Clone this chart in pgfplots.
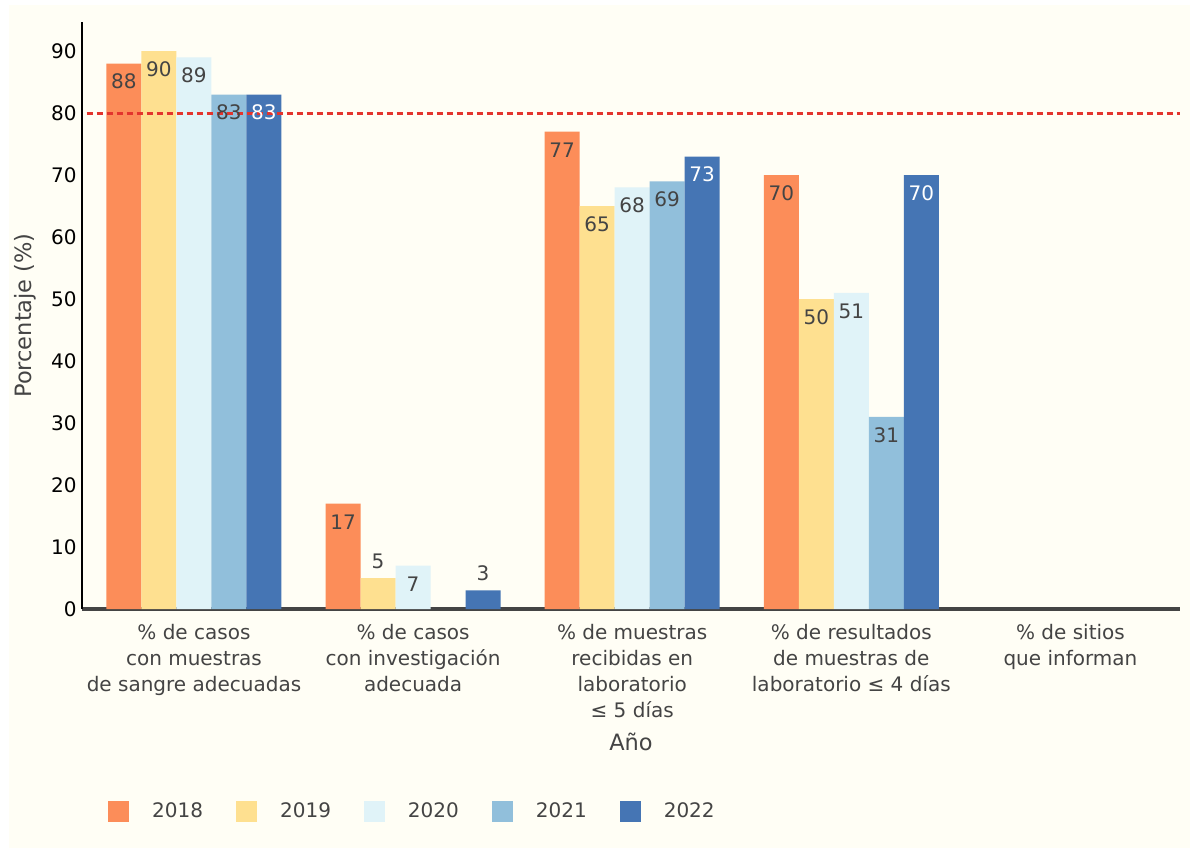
\documentclass[border=0pt]{standalone}
\usepackage{pgfplots}
\pgfplotsset{compat=1.18}
\usepackage{fontspec}
\setmainfont{DejaVu Sans}
\definecolor{bgc}{HTML}{FFFEF5}
\definecolor{txt}{HTML}{444444}
\definecolor{c2018}{HTML}{FC8D59}
\definecolor{c2019}{HTML}{FEE090}
\definecolor{c2020}{HTML}{E0F3F8}
\definecolor{c2021}{HTML}{91BFDB}
\definecolor{c2022}{HTML}{4575B4}
\definecolor{refred}{HTML}{E3342D}
\begin{document}
\begin{tikzpicture}
% page: 1190 x 848 px, axis origin at pixel (82,609)
\fill[white] (-82bp,-239bp) rectangle (1108bp,609bp);
\fill[bgc] (-73bp,-239bp) rectangle (1108bp,604bp);
\begin{axis}[
  scale only axis,
  width=1098bp, height=587bp,
  xmin=-0.511, xmax=4.5,
  ymin=0, ymax=94.7,
  ybar, bar width=35bp,
  axis x line*=bottom, axis y line*=left,
  x axis line style={draw=txt, line width=4bp, -},
  y axis line style={draw=black, line width=2.5bp, -},
  major tick length=0pt,
  xtick={0,1,2,3,4},
  xticklabels={{\% de casos\\con muestras\\de sangre adecuadas},
               {\% de casos\\con investigación\\adecuada},
               {\% de muestras\\recibidas en\\laboratorio\\≤ 5 días},
               {\% de resultados\\de muestras de\\laboratorio ≤ 4 días},
               {\% de sitios\\que informan}},
  xticklabel style={align=center, text=txt, font=\fontsize{20bp}{26bp}\selectfont, yshift=-12bp},
  ytick={0,10,...,90},
  yticklabel style={text=black, font=\fontsize{20bp}{24bp}\selectfont, xshift=-2bp},
  /pgf/number format/assume math mode=true,
  ylabel={Porcentaje (\%)},
  ylabel style={at={(axis description cs:0,0.5)}, anchor=center, yshift=57bp, text=txt, font=\fontsize{22.5bp}{27bp}\selectfont},
  xlabel={Año},
  xlabel style={at={(axis description cs:0.5,0)}, anchor=center, yshift=-133bp, text=txt, font=\fontsize{22.5bp}{27bp}\selectfont},
  nodes near coords,
  visualization depends on=y \as \rawy,
  every node near coord/.append style={anchor=base, inner sep=0pt, text=txt,
    font=\fontsize{20bp}{24bp}\selectfont,
    yshift={ifthenelse(\rawy<6,10,-25.5)}},
  legend columns=5,
  legend style={at={([xshift=26bp,yshift=-202bp]axis description cs:0,0)}, anchor=west,
    draw=none, fill=none, inner sep=0pt,
    font=\fontsize{20bp}{24bp}\selectfont, text=txt,
    nodes={inner sep=0pt},
    /tikz/every odd column/.append style={column sep=23bp},
    /tikz/every even column/.append style={column sep=33bp}},
  legend image code/.code={\fill[#1] (0bp,-10.5bp) rectangle (21bp,10.5bp);},
]
\addplot[fill=c2018, draw=none, bar shift=-70bp] coordinates {(0,88) (1,17) (2,77) (3,70)};
\addplot[fill=c2019, draw=none, bar shift=-35bp] coordinates {(0,90) (1,5) (2,65) (3,50)};
\addplot[fill=c2020, draw=none, bar shift=0bp] coordinates {(0,89) (1,7) (2,68) (3,51)};
\addplot[fill=c2021, draw=none, bar shift=35bp] coordinates {(0,83) (2,69) (3,31)};
\addplot[fill=c2022, draw=none, bar shift=70bp,
  nodes near coords={\ifdim\rawy pt<6pt\else\color{white}\fi\pgfmathprintnumber{\pgfplotspointmeta}}]
  coordinates {(0,83) (1,3) (2,73) (3,70)};
\legend{2018,2019,2020,2021,2022}
\draw[refred, line width=3bp, dash pattern=on 6bp off 4bp] (axis cs:-0.49,80) -- (axis cs:4.5,80);
\end{axis}
\end{tikzpicture}
\end{document}
